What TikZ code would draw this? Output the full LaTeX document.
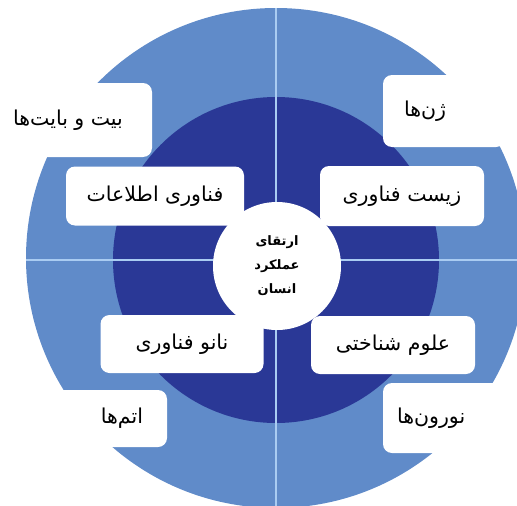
\documentclass[tikz,border=0pt]{standalone}
\usepackage{fontspec}
\usetikzlibrary{positioning}
\newfontfamily\farsi[Script=Arabic]{DejaVu Sans}
\TeXXeTstate=1
\newcommand{\fatext}[1]{{\farsi\beginR #1\endR}}
\definecolor{ringblue}{RGB}{96,139,201}
\definecolor{coreblue}{RGB}{42,56,150}
\definecolor{splitline}{RGB}{170,204,242}
\tikzset{
    tile/.style={fill=white, rounded corners=9pt, inner sep=0pt, font=\fontsize{20.5}{24}\selectfont},
    hub/.style={circle, fill=white, inner sep=0pt, minimum size=128pt, align=center, font=\bfseries\fontsize{13}{24}\selectfont},
}

\begin{document}
\begin{tikzpicture}[x=1pt,y=-1pt]
        \useasboundingbox (0,0) rectangle (517,506);

        % draw the two rings
        \fill[ringblue] (276,258) circle[radius=250pt];
        \fill[coreblue] (276,260) circle[radius=163pt];

        % draw the cross
        \begin{scope}
        \clip (276,258) circle[radius=250pt];
        \draw[splitline, line width=1.6pt] (276,0) -- (276,520);
        \draw[splitline, line width=1.6pt] (0,260) -- (530,260);
        \end{scope}

        % outer labels
        \node[tile, minimum width=168pt, minimum height=74pt] (bits) at (68,120) {\fatext{بیت و بایت‌ها}};
        \node[tile, text width=80pt, inner xsep=21pt, align=left, minimum height=72pt] (genes) at (444,111) {\fatext{ژن‌ها}};
        \node[tile, text width=89pt, inner xsep=24pt, align=right, minimum height=57pt] (atoms) at (98.5,418.5) {\fatext{اتم‌ها}};
        \node[tile, text width=99pt, inner xsep=14pt, align=left, minimum height=70pt] (neurons) at (446.5,418) {\fatext{نورون‌ها}};

        % inner labels
        \node[tile, minimum width=178pt, minimum height=59pt] (infotech) at (155,196) {\fatext{فناوری اطلاعات}};
        \node[tile, minimum width=164pt, minimum height=60pt] (biotech) at (402,196) {\fatext{زیست فناوری}};
        \node[tile, minimum width=163pt, minimum height=58pt] (nanotech) at (182,344) {\fatext{نانو فناوری}};
        \node[tile, minimum width=164pt, minimum height=58pt] (cogsci) at (393,345) {\fatext{علوم شناختی}};

        % the hub
        \node[hub] (core) at (277,266) {\fatext{ارتقای}\\\fatext{عملکرد}\\\fatext{انسان}};
    \end{tikzpicture}
\end{document}
